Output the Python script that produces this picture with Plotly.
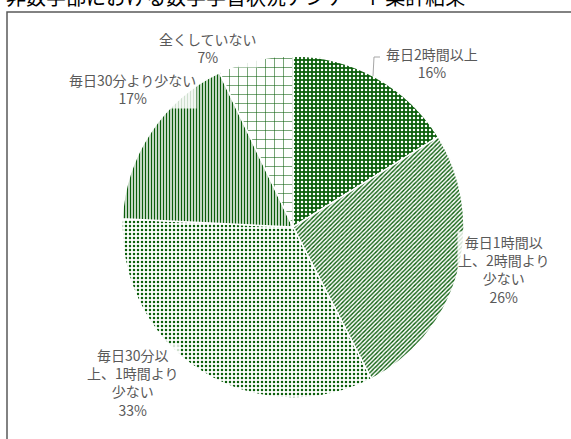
import plotly.graph_objects as go

labels = ["毎日2時間以上", "毎日1時間以上、2時間より少ない", "毎日30分以上、1時間より少ない",
          "毎日30分より少ない", "全くしていない"]
values = [16, 26, 33, 17, 7]
label_texts = ["毎日2時間以上<br>16%", "毎日1時間以<br>上、2時間より<br>少ない<br>26%",
               "毎日30分以<br>上、1時間より<br>少ない<br>33%", "毎日30分より少ない<br>17%",
               "全くしていない<br>7%"]
title_text = "非数学部における数学学習状況アンケート集計結果"

W, H = 571, 439
DG = "#0b5e0b"
pattern_shapes = [".", "/", ".", "|", "+"]
pattern_fg = ["white", DG, DG, DG, DG]
pattern_bg = [DG, "white", "white", "white", "white"]
pattern_size = [4, 3, 4, 3, 9]
pattern_solid = [0.3, 0.45, 0.3, 0.5, 0.12]


def px_x(px):
    return px / W


def px_y(py):
    return 1 - py / H


# pie placement (page pixels)
cx, cy, r = 293, 227, 171

fig = go.Figure(go.Pie(
    labels=labels, values=values, sort=False, direction="clockwise", rotation=0,
    textinfo="none", hoverinfo="label+percent",
    marker=dict(colors=pattern_bg, line=dict(color="white", width=1.5),
                pattern=dict(shape=pattern_shapes, fgcolor=pattern_fg, bgcolor=pattern_bg,
                             size=pattern_size, solidity=pattern_solid, fillmode="replace")),
    domain=dict(x=[px_x(cx - r), px_x(cx + r)], y=[px_y(cy + r), px_y(cy - r)]),
    showlegend=False,
))

# label centres in page pixels
label_pos = [(432, 63), (504, 269), (133, 382), (132, 89), (208, 48)]
annotations = []
for t, (px, py) in zip(label_texts, label_pos):
    annotations.append(dict(
        text=t, x=px_x(px), y=px_y(py), xref="paper", yref="paper",
        xanchor="center", yanchor="middle", showarrow=False, align="center",
        font=dict(family="Noto Sans CJK JP", size=14, color="#595959"),
        bgcolor="rgba(255,255,255,0.8)", borderpad=0,
    ))
annotations.append(dict(
    text=title_text, x=px_x(4), y=px_y(-3), xref="paper", yref="paper",
    xanchor="left", yanchor="middle", showarrow=False,
    font=dict(family="Noto Sans CJK JP", size=20, color="black"),
))

shapes = [
    dict(type="rect", xref="paper", yref="paper", x0=px_x(7), x1=1.05, y0=-0.05, y1=px_y(12),
         line=dict(color="#595959", width=1.5), fillcolor="rgba(0,0,0,0)", layer="below"),
    dict(type="path", xref="paper", yref="paper",
         path=f"M {px_x(373)},{px_y(76)} L {px_x(374)},{px_y(57)} L {px_x(380)},{px_y(57)}",
         line=dict(color="#a6a6a6", width=1)),
]

fig.update_layout(
    width=W, height=H, margin=dict(l=0, r=0, t=0, b=0),
    paper_bgcolor="white", plot_bgcolor="white",
    annotations=annotations, shapes=shapes,
)
fig.write_html("out.html", config={"displayModeBar": False},
               post_script="document.body.style.margin='0';")
